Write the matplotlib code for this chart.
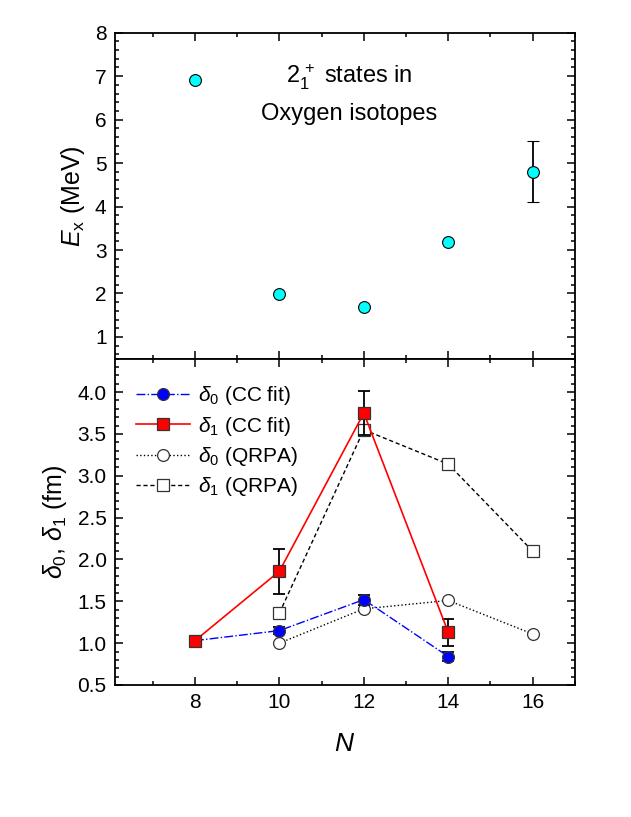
import matplotlib
matplotlib.use("Agg")
import matplotlib.pyplot as plt
from matplotlib.ticker import MultipleLocator

plt.rcParams['font.family'] = ['Liberation Sans', 'DejaVu Sans']
plt.rcParams['mathtext.fontset'] = 'custom'
plt.rcParams['mathtext.rm'] = 'Liberation Sans'
plt.rcParams['mathtext.it'] = 'Liberation Sans:italic'

# top panel: 2+ excitation energies
n_ex = [8, 10, 12, 14, 16]
ex = [6.92, 1.99, 1.68, 3.19, 4.80]
ex_err = [0, 0, 0, 0, 0.70]

# bottom panel: deformation lengths
n_cc = [8, 10, 12, 14]
d0_cc = [1.03, 1.15, 1.52, 0.84]
d0_cc_err = [0.04, 0.04, 0.06, 0.05]
d1_cc = [1.03, 1.86, 3.75, 1.13]
d1_cc_err = [0.04, 0.27, 0.26, 0.16]

n_qrpa = [10, 12, 14, 16]
d0_qrpa = [1.00, 1.41, 1.51, 1.11]
d1_qrpa = [1.36, 3.55, 3.14, 2.10]

fig = plt.figure(figsize=(6.31, 8.17), dpi=100)
ax1 = fig.add_axes([0.182, 0.561, 0.729, 0.399])
ax2 = fig.add_axes([0.182, 0.1616, 0.729, 0.3994])

def style(ax):
    for s in ax.spines.values():
        s.set_linewidth(1.3)
    ax.tick_params(which='both', direction='in', top=True, right=True, width=1.1)
    ax.tick_params(which='major', length=6, labelsize=15, pad=6)
    ax.tick_params(which='minor', length=3)
    ax.set_xlim(6.1, 17)
    ax.xaxis.set_major_locator(MultipleLocator(2))
    ax.xaxis.set_minor_locator(MultipleLocator(1))

# top
style(ax1)
ax1.errorbar(n_ex, ex, yerr=ex_err, fmt='o', color='black', mfc='cyan', mec='black',
             ms=8.5, mew=0.8, capsize=4, elinewidth=1.3, capthick=1.3)
ax1.set_ylim(0.5, 8)
ax1.yaxis.set_major_locator(MultipleLocator(1))
ax1.yaxis.set_minor_locator(MultipleLocator(0.2))
ax1.set_xticklabels([])
ax1.set_ylabel('$E_{\\mathrm{x}}$ (MeV)', fontsize=18, labelpad=6)
ax1.text(0.51, 0.862, '$\\mathrm{2_1^{\\,+}}$ states in', transform=ax1.transAxes,
         ha='center', va='center', fontsize=17)
ax1.text(0.51, 0.752, 'Oxygen isotopes', transform=ax1.transAxes,
         ha='center', va='center', fontsize=17)

# bottom
style(ax2)
mk = dict(ms=8.5, mec='#333333', mew=0.9)
ax2.plot(n_qrpa, d0_qrpa, ':', color='black', lw=1, marker='o', mfc='white',
         label='$\\delta_0$ (QRPA)', zorder=2, **mk)
ax2.plot(n_qrpa, d1_qrpa, '--', color='black', lw=1, dashes=(3, 2), marker='s', mfc='white',
         label='$\\delta_1$ (QRPA)', zorder=2, **mk)
ax2.errorbar(n_cc, d0_cc, yerr=d0_cc_err, fmt='none', ecolor='black', elinewidth=1.3,
             capsize=4, capthick=1.3, zorder=3)
ax2.plot(n_cc, d0_cc, '-.', color='blue', lw=1, marker='o', mfc='blue',
         label='$\\delta_0$ (CC fit)', zorder=3, **mk)
ax2.errorbar(n_cc, d1_cc, yerr=d1_cc_err, fmt='none', ecolor='black', elinewidth=1.3,
             capsize=4, capthick=1.3, zorder=4)
ax2.plot(n_cc, d1_cc, '-', color='red', lw=1.2, marker='s', mfc='red',
         label='$\\delta_1$ (CC fit)', zorder=4, **mk)
ax2.set_ylim(0.5, 4.4)
ax2.yaxis.set_major_locator(MultipleLocator(0.5))
ax2.yaxis.set_minor_locator(MultipleLocator(0.1))
ax2.set_ylabel('$\\delta_0$, $\\delta_1$ (fm)', fontsize=18, labelpad=6)
ax2.set_xlabel('$N$', fontsize=19, labelpad=14)

h, l = ax2.get_legend_handles_labels()
order = [2, 3, 0, 1]
ax2.legend([h[i] for i in order], [l[i] for i in order], loc='upper left',
           frameon=False, fontsize=15, handlelength=2.6, handletextpad=0.4,
           labelspacing=0.35, borderaxespad=0.6, bbox_to_anchor=(0.0, 0.985))

fig.savefig('out.png', dpi=100)
